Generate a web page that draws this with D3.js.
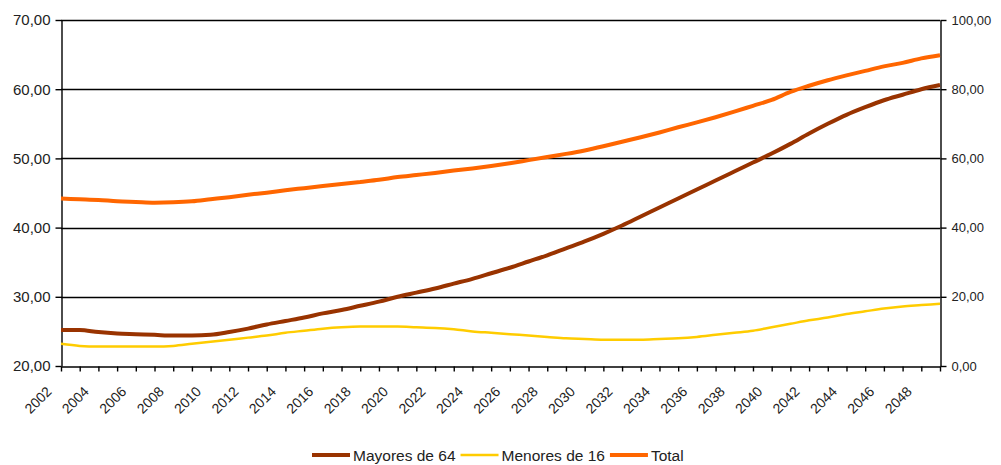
<!DOCTYPE html>
<html>
<head>
<meta charset="utf-8">
<script src="https://cdn.jsdelivr.net/npm/d3@7"></script>
<style>
    body { margin: 0; background: #fff; }
    svg { display: block; font-family: "Liberation Sans", Arial, sans-serif; }
</style>
</head>
<body>
<svg id="chart" width="1001" height="465"></svg>
<script>
const years = d3.range(2002, 2050);

// left axis (%)
const mayores = [
    25.2, 25.2, 24.9, 24.7, 24.6, 24.5, 24.4, 24.4, 24.5, 24.9,
    25.4, 26.0, 26.5, 27.0, 27.6, 28.1, 28.7, 29.3, 30.0, 30.6,
    31.2, 31.9, 32.6, 33.4, 34.2, 35.1, 36.0, 37.0, 38.0, 39.1,
    40.3, 41.6, 42.9, 44.2, 45.5, 46.8, 48.1, 49.4, 50.7, 52.1,
    53.6, 55.0, 56.3, 57.4, 58.4, 59.2, 60.0, 60.6
];
const menores = [
    23.2, 22.9, 22.8, 22.8, 22.8, 22.8, 22.9, 23.2, 23.5, 23.8,
    24.1, 24.4, 24.8, 25.1, 25.4, 25.6, 25.7, 25.7, 25.7, 25.6,
    25.5, 25.3, 25.0, 24.8, 24.6, 24.4, 24.2, 24.0, 23.9, 23.8,
    23.8, 23.8, 23.9, 24.0, 24.2, 24.5, 24.8, 25.1, 25.6, 26.1,
    26.6, 27.0, 27.5, 27.9, 28.3, 28.6, 28.8, 29.0
];
// right axis (%)
const total = [
    48.4, 48.2, 48.0, 47.6, 47.4, 47.2, 47.3, 47.6, 48.2, 48.8,
    49.5, 50.1, 50.8, 51.4, 52.0, 52.6, 53.2, 53.8, 54.6, 55.2,
    55.8, 56.5, 57.1, 57.8, 58.6, 59.5, 60.4, 61.3, 62.3, 63.5,
    64.8, 66.1, 67.5, 69.0, 70.4, 71.9, 73.5, 75.2, 76.9, 79.2,
    81.0, 82.6, 84.0, 85.3, 86.6, 87.6, 88.9, 89.8
];

const leftTicks = [20, 30, 40, 50, 60, 70];
const rightTicks = [0, 20, 40, 60, 80, 100];
const yearLabels = d3.range(2002, 2049, 2);

const seriesNames = ["Mayores de 64", "Menores de 16", "Total"];
const seriesColors = ["#993300", "#ffcc00", "#ff6600"];
const seriesWidths = [4, 2.5, 4];

const plot = {left: 61, right: 940, top: 20, bottom: 366};
const fmt = v => d3.format(".2f")(v).replace(".", ",");

const svg = d3.select("#chart");

const x = d3.scaleLinear().domain([2002, 2049]).range([plot.left, plot.right]);
const yL = d3.scaleLinear().domain([20, 70]).range([plot.bottom, plot.top]);
const yR = d3.scaleLinear().domain([0, 100]).range([plot.bottom, plot.top]);

// gridlines
svg.append("g")
    .selectAll("line")
    .data(leftTicks.slice(1))
    .enter()
    .append("line")
    .attr("x1", plot.left)
    .attr("x2", plot.right)
    .attr("y1", d => Math.round(yL(d)) + 0.5)
    .attr("y2", d => Math.round(yL(d)) + 0.5)
    .attr("stroke", "#000")
    .attr("stroke-width", 1.4);

// left axis
const gLeft = svg.append("g")
    .attr("transform", `translate(${plot.left + 0.5}, 0)`)
    .call(d3.axisLeft(yL).tickValues(leftTicks).tickSize(6).tickSizeOuter(0).tickPadding(5).tickFormat(fmt));

// right axis
const gRight = svg.append("g")
    .attr("transform", `translate(${plot.right + 0.5}, 0)`)
    .call(d3.axisRight(yR).tickValues(rightTicks).tickSize(6).tickSizeOuter(0).tickPadding(5).tickFormat(fmt));

// bottom axis
const gBottom = svg.append("g")
    .attr("transform", `translate(0, ${plot.bottom + 0.5})`)
    .call(d3.axisBottom(x).tickValues(years).tickSize(5).tickSizeOuter(0).tickFormat(""));

[gLeft, gRight, gBottom].forEach(g => {
    g.selectAll("path, line").attr("stroke", "#000").attr("stroke-width", 1.4);
    g.selectAll("text").attr("fill", "#222").style("font-size", "13px");
});
gLeft.selectAll("text").style("font-size", "15px");

svg.append("g")
    .selectAll("text")
    .data(yearLabels)
    .enter()
    .append("text")
    .attr("transform", d => `translate(${x(d) - 12}, ${plot.bottom + 23}) rotate(-45)`)
    .attr("text-anchor", "end")
    .attr("dy", "0.35em")
    .attr("fill", "#222")
    .style("font-size", "14px")
    .text(d => d);

// lines
const series = [
    {values: mayores, y: yL},
    {values: menores, y: yL},
    {values: total, y: yR},
];

series.forEach((s, i) => {
    const line = d3.line()
        .x((d, j) => x(years[j]))
        .y(d => s.y(d))
        .curve(d3.curveMonotoneX);
    svg.append("path")
        .datum(s.values)
        .attr("d", line)
        .attr("fill", "none")
        .attr("stroke", seriesColors[i])
        .attr("stroke-width", seriesWidths[i])
        .attr("stroke-linejoin", "round");
});

// Legend
const legend = svg.append("g").attr("transform", "translate(312, 455)");
let lx = 0;
seriesNames.forEach((name, i) => {
    legend.append("line")
        .attr("x1", lx).attr("x2", lx + 38)
        .attr("y1", 0).attr("y2", 0)
        .attr("stroke", seriesColors[i])
        .attr("stroke-width", seriesWidths[i]);
    const t = legend.append("text")
        .attr("x", lx + 41)
        .attr("y", 5.5)
        .attr("fill", "#222")
        .style("font-size", "15.5px")
        .text(name);
    lx += 41 + t.node().getComputedTextLength() + 5;
});
</script>
</body>
</html>
